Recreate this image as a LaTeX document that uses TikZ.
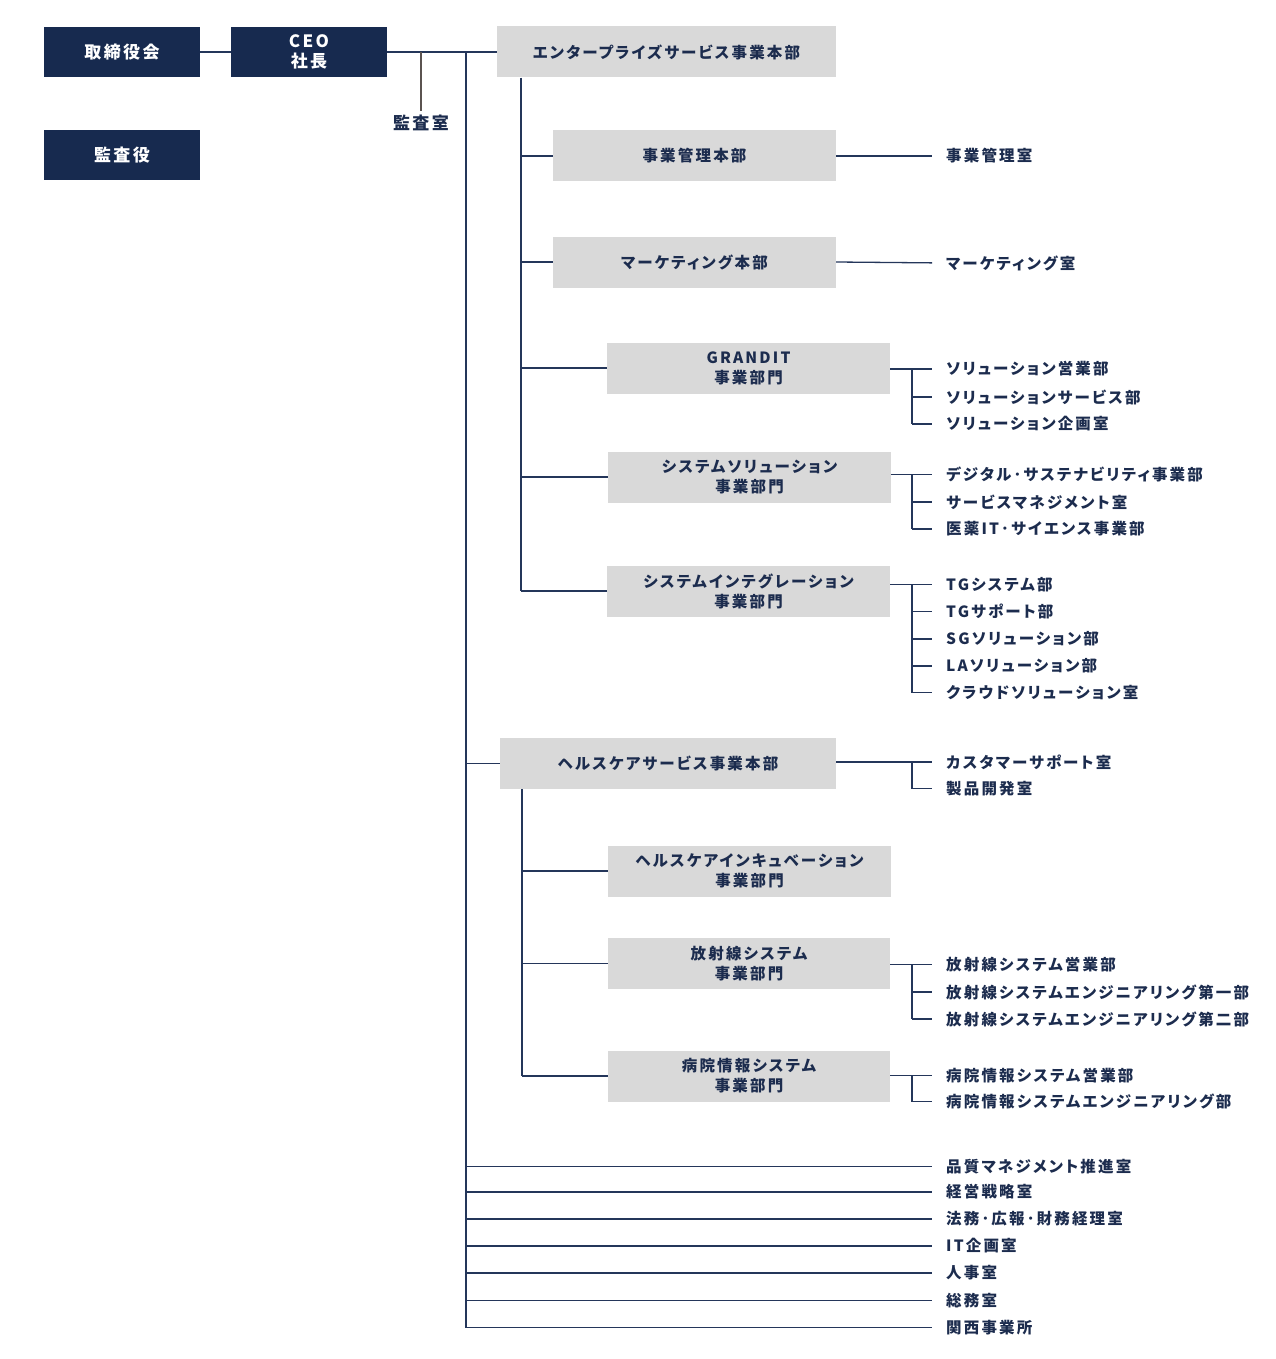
\documentclass[tikz,border=0pt]{standalone}
\usepackage{fontspec}
\setmainfont{Noto Sans CJK JP}[LetterSpace=14, RawFeature=+palt]
\definecolor{navy}{HTML}{172A4F}
\definecolor{navytext}{HTML}{1C2C4E}
\definecolor{boxgrey}{HTML}{D9D9D9}
\definecolor{linec}{HTML}{24365A}
\definecolor{grayline}{HTML}{5B5350}
\begin{document}
\begin{tikzpicture}[x=1pt,y=-1pt,
  every node/.style={font=\fontsize{15.5}{20}\selectfont\bfseries, text=navytext, inner sep=0pt},
  bigtext/.style={font=\fontsize{17}{20}\selectfont\bfseries},
  navybox/.style={bigtext, fill=navy, text=white, minimum width=156pt, minimum height=50pt, align=center},
  greybox/.style={fill=boxgrey, minimum height=51pt, align=center},
  sub/.style={greybox, minimum width=283pt},
  lbl/.style={anchor=west},
  conn/.style={draw=linec, line width=1.3pt},
  tolbl/.style={conn, shorten >=14pt}
]
\useasboundingbox (0,0) rectangle (1276,1359);

% top level
\node[navybox] (tori) at (122,52) {取締役会};
\node[navybox] (ceo) at (309,52) {CEO\\社長};
\node[navybox] (kansayaku) at (122,155) {監査役};
\node[bigtext] (kansashitsu) at (421,123) {監査室};
\node[greybox, minimum width=339pt] (ent) at (666.5,52) {エンタープライズサービス事業本部};

\coordinate (tt) at (466,52);
\coordinate (tb) at (466,1328);
\coordinate (ev) at (521,591);
\coordinate (hv) at (522,1076);
\coordinate (rv) at (912,0);

\draw[conn] (tori.east) -- (ceo.west);
\draw[conn] (ceo.east) -- (ent.west);
\draw[conn, draw=grayline, shorten >=4pt] (ceo.east -| kansashitsu.north) -- (kansashitsu.north);
\draw[conn] (tt) -- (tb);

% enterprise branch
\node[sub] (jigyo) at (694.5,156) {事業管理本部};
\node[sub] (mkt) at (694.5,262) {マーケティング本部};
\node[sub] (grandit) at (748.5,368) {GRANDIT\\事業部門};
\node[sub] (syssol) at (749.5,477) {システムソリューション\\事業部門};
\node[sub] (sysint) at (748.5,591) {システムインテグレーション\\事業部門};

\draw[conn] (ent.south -| ev) -- (ev);
\foreach \b in {jigyo,mkt,grandit,syssol,sysint}
  \draw[conn] (\b.west -| ev) -- (\b.west);

\node[lbl] (a1) at (946,156) {事業管理室};
\node[lbl] (a2) at (946,263) {マーケティング室};
\draw[tolbl] (jigyo.east) -- (a1.west);
\draw[tolbl] (mkt.east) -- (a2.west);

\node[lbl] (g1) at (946,369) {ソリューション営業部};
\node[lbl] (g2) at (946,397) {ソリューションサービス部};
\node[lbl] (g3) at (946,424) {ソリューション企画室};
\draw[tolbl] (g1.west -| grandit.east) -- (g1.west);
\draw[conn] (g1.west -| rv) -- (g3.west -| rv);
\foreach \l in {g2,g3} \draw[tolbl] (\l.west -| rv) -- (\l.west);

\node[lbl] (s1) at (946,474.5) {デジタル･サステナビリティ事業部};
\node[lbl] (s2) at (946,502) {サービスマネジメント室};
\node[lbl] (s3) at (946,529) {医薬IT･サイエンス事業部};
\draw[tolbl] (s1.west -| syssol.east) -- (s1.west);
\draw[conn] (s1.west -| rv) -- (s3.west -| rv);
\foreach \l in {s2,s3} \draw[tolbl] (\l.west -| rv) -- (\l.west);

\node[lbl] (i1) at (946,584.5) {TGシステム部};
\node[lbl] (i2) at (946,611.5) {TGサポート部};
\node[lbl] (i3) at (946,639) {SGソリューション部};
\node[lbl] (i4) at (946,666) {LAソリューション部};
\node[lbl] (i5) at (946,692.5) {クラウドソリューション室};
\draw[tolbl] (i1.west -| sysint.east) -- (i1.west);
\draw[conn] (i1.west -| rv) -- (i5.west -| rv);
\foreach \l in {i2,i3,i4,i5} \draw[tolbl] (\l.west -| rv) -- (\l.west);

% healthcare branch
\node[greybox, minimum width=336pt] (hc) at (668,763.5) {ヘルスケアサービス事業本部};
\draw[conn] (hc.west -| tt) -- (hc.west);
\node[sub, minimum width=283pt] (hcinc) at (749.5,871) {ヘルスケアインキュベーション\\事業部門};
\node[sub, minimum width=282pt] (hosha) at (749,963.5) {放射線システム\\事業部門};
\node[sub, minimum width=282pt] (byoin) at (749,1076) {病院情報システム\\事業部門};
\draw[conn] (hc.south -| hv) -- (hv);
\foreach \b in {hcinc,hosha,byoin}
  \draw[conn] (\b.west -| hv) -- (\b.west);

\node[lbl] (h1) at (946,762) {カスタマーサポート室};
\node[lbl] (h2) at (946,788.5) {製品開発室};
\draw[tolbl] (h1.west -| hc.east) -- (h1.west);
\draw[conn] (h1.west -| rv) -- (h2.west -| rv);
\draw[tolbl] (h2.west -| rv) -- (h2.west);

\node[lbl] (r1) at (946,964.5) {放射線システム営業部};
\node[lbl] (r2) at (946,992) {放射線システムエンジニアリング第一部};
\node[lbl] (r3) at (946,1019) {放射線システムエンジニアリング第二部};
\draw[tolbl] (r1.west -| hosha.east) -- (r1.west);
\draw[conn] (r1.west -| rv) -- (r3.west -| rv);
\foreach \l in {r2,r3} \draw[tolbl] (\l.west -| rv) -- (\l.west);

\node[lbl] (b1) at (946,1075.5) {病院情報システム営業部};
\node[lbl] (b2) at (946,1101.5) {病院情報システムエンジニアリング部};
\draw[tolbl] (b1.west -| byoin.east) -- (b1.west);
\draw[conn] (b1.west -| rv) -- (b2.west -| rv);
\draw[tolbl] (b2.west -| rv) -- (b2.west);

% staff offices
\node[lbl] (o1) at (946,1166.5) {品質マネジメント推進室};
\node[lbl] (o2) at (946,1192) {経営戦略室};
\node[lbl] (o3) at (946,1219) {法務･広報･財務経理室};
\node[lbl] (o4) at (946,1246) {IT企画室};
\node[lbl] (o5) at (946,1273) {人事室};
\node[lbl] (o6) at (946,1300.5) {総務室};
\node[lbl] (o7) at (946,1327.5) {関西事業所};
\foreach \l in {o1,o2,o3,o4,o5,o6,o7}
  \draw[tolbl] (\l.west -| tt) -- (\l.west);
\end{tikzpicture}
\end{document}
